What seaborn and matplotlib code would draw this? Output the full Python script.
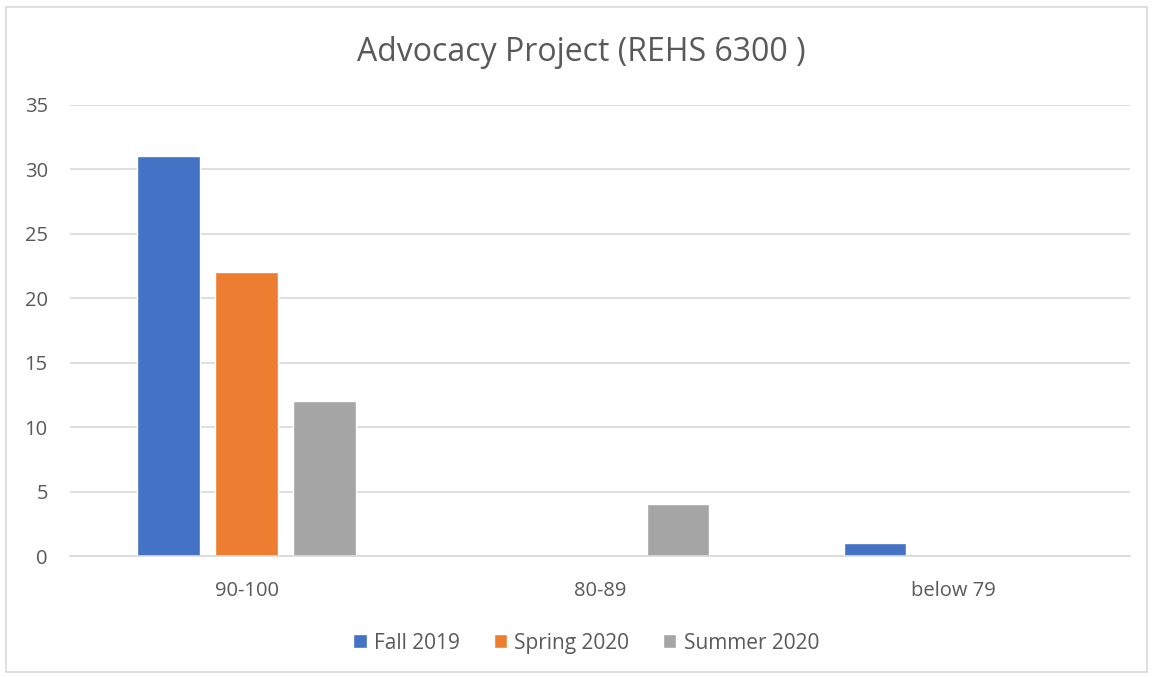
import pandas as pd
import seaborn as sns
import matplotlib.pyplot as plt
from matplotlib.patches import Rectangle

grades = ['90-100', '80-89', 'below 79']
fall_2019 = [31, 0, 1]
spring_2020 = [22, 0, 0]
summer_2020 = [12, 4, 0]
terms = ['Fall 2019', 'Spring 2020', 'Summer 2020']
colors = ['#4472C4', '#ED7D31', '#A5A5A5']

df = pd.DataFrame({
    'Grade': grades * 3,
    'Count': fall_2019 + spring_2020 + summer_2020,
    'Term': [t for t in terms for _ in grades],
})

sns.set_theme(style='white')
plt.rcParams['font.family'] = ['Open Sans', 'DejaVu Sans']
text_color = '#595959'

fig = plt.figure(figsize=(11.53, 6.77), dpi=100)
ax = fig.add_axes([0.0607, 0.1787, 0.9193, 0.6663])

sns.barplot(
    data=df, x='Grade', y='Count', hue='Term',
    order=grades, hue_order=terms, palette=colors,
    width=0.663, gap=0.2, saturation=1, ax=ax,
)

ax.set_ylim(0, 35)
ax.set_yticks(range(0, 36, 5))
ax.set_xlim(-0.5, 2.5)
ax.grid(axis='y', color='#D9D9D9', linewidth=1.2)
ax.set_axisbelow(True)
for side in ['top', 'right', 'left']:
    ax.spines[side].set_visible(False)
ax.spines['bottom'].set_color('#D9D9D9')
ax.spines['bottom'].set_linewidth(1.2)
ax.tick_params(axis='both', length=0, labelsize=14.5, colors=text_color)
ax.tick_params(axis='x', pad=18)
ax.tick_params(axis='y', pad=16)
ax.set_xlabel('')
ax.set_ylabel('')

fig.text(0.504, 0.923, 'Advocacy Project (REHS 6300 )', fontsize=23,
         color=text_color, ha='center', va='center')

ax.legend(
    loc='center', bbox_to_anchor=(0.487, -0.193), ncol=3, frameon=False,
    fontsize=15, labelcolor=text_color, handlelength=0.65, handleheight=0.65,
    handletextpad=0.35, columnspacing=1.6,
)

fig.patches.append(Rectangle((6 / 1153, 5 / 677), 1141 / 1153, 665 / 677,
                             transform=fig.transFigure, fill=False,
                             edgecolor='#D9D9D9', linewidth=1.2))

fig.savefig('out.png', dpi=100)
